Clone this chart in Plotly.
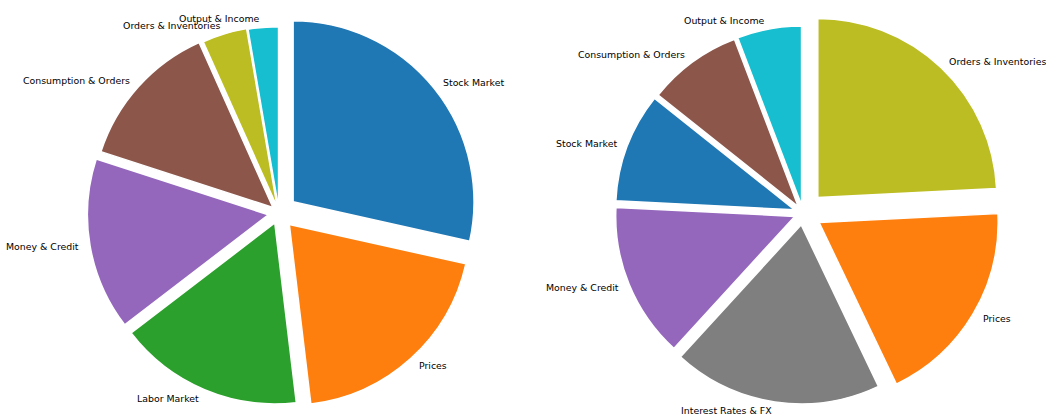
import math
import plotly.graph_objects as go

# Left pie
left_labels = ["Stock Market", "Prices", "Labor Market", "Money & Credit",
               "Consumption & Orders", "Orders & Inventories", "Output & Income"]
left_values = [28.5, 19.6, 16.5, 15.4, 13.3, 4.0, 2.7]
left_pull = [0.10, 0.085, 0.06, 0.06, 0.045, 0.035, 0.03]

# Right pie
right_labels = ["Orders & Inventories", "Prices", "Interest Rates & FX", "Money & Credit",
                "Stock Market", "Consumption & Orders", "Output & Income"]
right_values = [24.2, 18.7, 18.9, 14.0, 9.9, 8.5, 5.8]
right_pull = [0.12, 0.105, 0.067, 0.05, 0.05, 0.045, 0.045]

palette = {
    "Stock Market": "#1f77b4",
    "Prices": "#ff7f0e",
    "Labor Market": "#2ca02c",
    "Money & Credit": "#9467bd",
    "Consumption & Orders": "#8c564b",
    "Interest Rates & FX": "#7f7f7f",
    "Orders & Inventories": "#bcbd22",
    "Output & Income": "#17becf",
}

W, H = 1046, 416
ml, mr, mt, mb = 0, 0, 12, 2
plot_w, plot_h = W - ml - mr, H - mt - mb
LABEL_DIST = 1.05  # label distance from the (pulled) slice apex, in radii
FONT = dict(family="DejaVu Sans", size=9.4, color="#000000")

# centre x and box width (px) of each pie
left_cx, left_box = 279, 398
right_cx, right_box = 803, 401


def dom(cx, box):
    half = box / 2 / plot_w
    c = (cx - ml) / plot_w
    return [c - half, c + half]


def pie(labels, values, pull, cx, box):
    return go.Pie(
        labels=labels,
        values=values,
        pull=pull,
        sort=False,
        direction="clockwise",
        rotation=0,
        textinfo="none",
        marker=dict(colors=[palette[l] for l in labels],
                    line=dict(color="white", width=1.5)),
        domain=dict(x=dom(cx, box), y=[0, 1]),
        showlegend=False,
        hoverinfo="label+value",
    )


def slice_labels(labels, values, pull, cx, box):
    """Place each label outside its slice along the slice's mid angle."""
    cy = mt + plot_h / 2
    r = min(box, plot_h) / (2 + 2 * max(pull))
    total = sum(values)
    acc = 0.0
    notes = []
    for lab, v, p in zip(labels, values, pull):
        theta = math.radians(90 - 360 * (acc + v / 2) / total)
        acc += v
        dist = (p + LABEL_DIST) * r
        px = cx + dist * math.cos(theta)
        py = cy - dist * math.sin(theta)
        notes.append(dict(
            text=lab, showarrow=False, xref="paper", yref="paper",
            x=(px - ml) / plot_w, y=1 - (py - mt) / plot_h,
            xanchor="left" if math.cos(theta) > 0 else "right",
            yanchor="middle", font=FONT,
        ))
    return notes


fig = go.Figure([pie(left_labels, left_values, left_pull, left_cx, left_box),
                 pie(right_labels, right_values, right_pull, right_cx, right_box)])
fig.update_layout(
    width=W, height=H,
    margin=dict(l=ml, r=mr, t=mt, b=mb, autoexpand=False),
    paper_bgcolor="white",
    plot_bgcolor="white",
    font=FONT,
    annotations=slice_labels(left_labels, left_values, left_pull, left_cx, left_box)
    + slice_labels(right_labels, right_values, right_pull, right_cx, right_box),
)
fig.write_html("out.html")
